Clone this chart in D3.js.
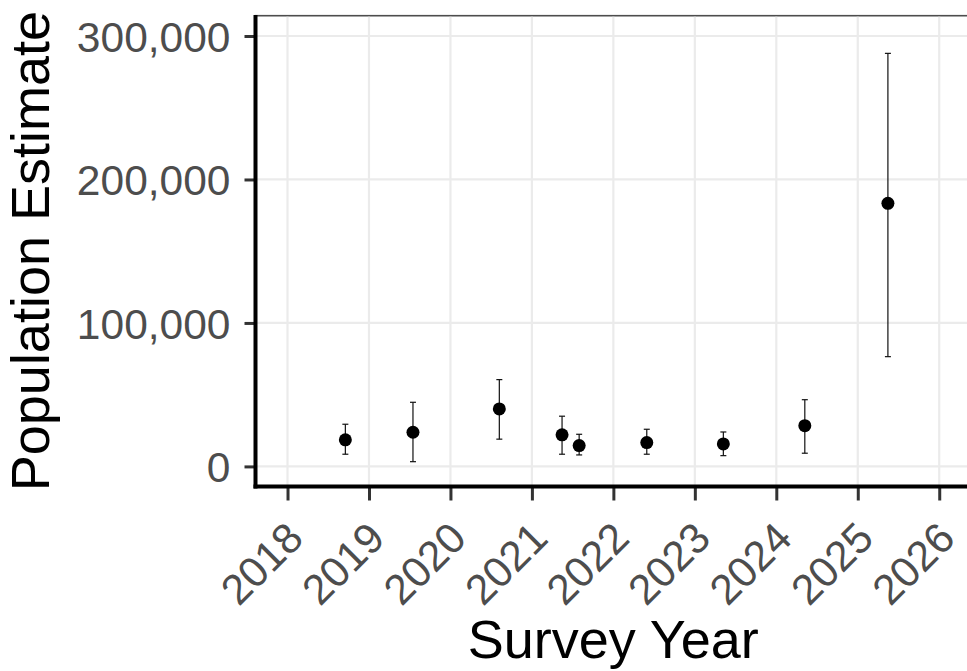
<!DOCTYPE html>
<html>
<head>
<meta charset="utf-8">
<script src="https://cdn.jsdelivr.net/npm/d3@7"></script>
<style>
  html, body { margin: 0; padding: 0; background: #fff; overflow: hidden; }
  svg { display: block; font-family: "Liberation Sans", Arial, sans-serif; }
</style>
</head>
<body>
<svg id="chart" width="967" height="671"></svg>
<script>
// ---- data ----
const surveyYears = [2018.71, 2019.54, 2020.60, 2021.37, 2021.58, 2022.41, 2023.35, 2024.35, 2025.37];
const estimates   = [18500, 23800, 40100, 22000, 14500, 16600, 15700, 28400, 183400];
const lowerCI     = [8500, 3300, 19000, 8500, 8000, 8500, 7500, 9200, 76500];
const upperCI     = [29400, 44700, 60500, 35000, 22400, 25900, 24000, 46500, 287900];
const xTicks = [2018, 2019, 2020, 2021, 2022, 2023, 2024, 2025, 2026];
const yTicks = [0, 100000, 200000, 300000];
const xDomain = [2017.607, 2026.39];
const yDomain = [-14000, 314150];

const points = surveyYears.map((yr, i) => ({ yr, est: estimates[i], lo: lowerCI[i], hi: upperCI[i] }));

// ---- layout ----
const panel = { left: 255.5, right: 971, top: 15.7, bottom: 486.5 };
const svg = d3.select("#chart");

const x = d3.scaleLinear().domain(xDomain).range([panel.left, panel.right]);
const y = d3.scaleLinear().domain(yDomain).range([panel.bottom, panel.top]);

// panel background + border
svg.append("rect")
  .attr("x", panel.left).attr("y", panel.top)
  .attr("width", panel.right - panel.left).attr("height", panel.bottom - panel.top)
  .attr("fill", "#fff").attr("stroke", "#4d4d4d").attr("stroke-width", 1.6);

// gridlines
const grid = svg.append("g");
grid.selectAll(".gx").data(xTicks).join("line")
  .attr("x1", d => x(d)).attr("x2", d => x(d))
  .attr("y1", panel.top + 1).attr("y2", panel.bottom)
  .attr("stroke", "#ebebeb").attr("stroke-width", 2.2);
grid.selectAll(".gy").data(yTicks).join("line")
  .attr("x1", panel.left).attr("x2", panel.right)
  .attr("y1", d => y(d)).attr("y2", d => y(d))
  .attr("stroke", "#ebebeb").attr("stroke-width", 2.2);

// axes
const xAxis = d3.axisBottom(x).tickValues(xTicks).tickSize(14).tickSizeOuter(0).tickFormat(d3.format("d"));
const yAxis = d3.axisLeft(y).tickValues(yTicks).tickSize(11).tickSizeOuter(0).tickFormat(d3.format(",d"));

const gx = svg.append("g").attr("transform", `translate(0,${panel.bottom})`).call(xAxis);
gx.select(".domain").remove();
gx.selectAll(".tick line").attr("stroke", "#333").attr("stroke-width", 3);
gx.selectAll(".tick text")
  .attr("fill", "#4d4d4d").attr("font-size", 42.5)
  .attr("text-anchor", "end")
  .attr("x", 0).attr("y", 0).attr("dy", 0)
  .attr("transform", "translate(17.5,54) rotate(-45)");

const gy = svg.append("g").attr("transform", `translate(${panel.left},0)`).call(yAxis);
gy.select(".domain").remove();
gy.selectAll(".tick line").attr("stroke", "#333").attr("stroke-width", 3);
gy.selectAll(".tick text")
  .attr("fill", "#4d4d4d").attr("font-size", 42.5)
  .attr("x", -25).attr("dy", "0.36em");

// axis lines (left & bottom)
svg.append("line")
  .attr("x1", panel.left).attr("x2", panel.left)
  .attr("y1", panel.top - 0.8).attr("y2", panel.bottom + 2)
  .attr("stroke", "#000").attr("stroke-width", 4);
svg.append("line")
  .attr("x1", panel.left - 2).attr("x2", panel.right)
  .attr("y1", panel.bottom).attr("y2", panel.bottom)
  .attr("stroke", "#000").attr("stroke-width", 4);

// error bars
const eb = svg.append("g").attr("stroke", "#111").attr("stroke-width", 1.2).attr("fill", "none");
eb.selectAll(".v").data(points).join("line")
  .attr("x1", d => x(d.yr)).attr("x2", d => x(d.yr))
  .attr("y1", d => y(d.lo)).attr("y2", d => y(d.hi));
eb.selectAll(".ct").data(points).join("line")
  .attr("x1", d => x(d.yr) - 3).attr("x2", d => x(d.yr) + 3)
  .attr("y1", d => y(d.hi)).attr("y2", d => y(d.hi));
eb.selectAll(".cb").data(points).join("line")
  .attr("x1", d => x(d.yr) - 3).attr("x2", d => x(d.yr) + 3)
  .attr("y1", d => y(d.lo)).attr("y2", d => y(d.lo));

// points
svg.append("g").selectAll("circle").data(points).join("circle")
  .attr("cx", d => x(d.yr)).attr("cy", d => y(d.est))
  .attr("r", 6.5).attr("fill", "#000");

// axis titles
svg.append("text")
  .attr("x", (panel.left + panel.right) / 2).attr("y", 658)
  .attr("text-anchor", "middle").attr("font-size", 54).attr("fill", "#000")
  .text("Survey Year");
svg.append("text")
  .attr("transform", `translate(49,${(panel.top + panel.bottom) / 2}) rotate(-90)`)
  .attr("text-anchor", "middle").attr("font-size", 54).attr("fill", "#000")
  .text("Population Estimate");
</script>
</body>
</html>
